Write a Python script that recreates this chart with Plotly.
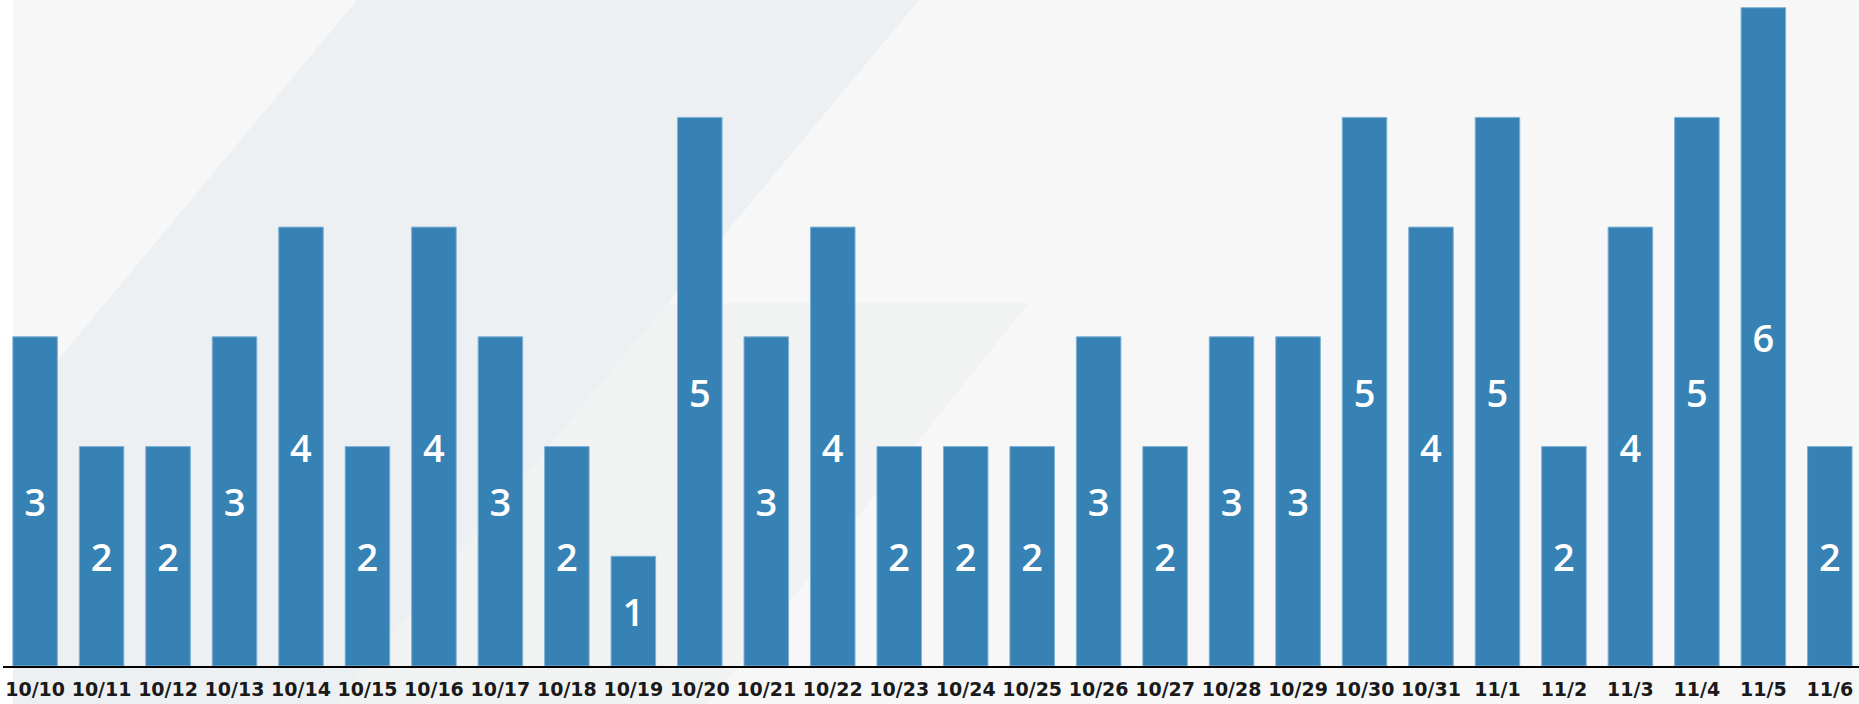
"""每日数量柱状图"""
from __future__ import annotations

import plotly.graph_objects as go

WIDTH, HEIGHT = 1859, 704
MARGIN_L, MARGIN_B = 3, 38

dates = [
    "10/10", "10/11", "10/12", "10/13", "10/14", "10/15", "10/16", "10/17",
    "10/18", "10/19", "10/20", "10/21", "10/22", "10/23", "10/24", "10/25",
    "10/26", "10/27", "10/28", "10/29", "10/30", "10/31", "11/1", "11/2",
    "11/3", "11/4", "11/5", "11/6",
]
counts = [3, 2, 2, 3, 4, 2, 4, 3, 2, 1, 5, 3, 4, 2, 2, 2, 3, 2, 3, 3, 5, 4, 5, 2, 4, 5, 6, 2]

BAR_COLOR = "#3782b5"
BG_COLOR = "#f7f7f7"


def _px(x: float, y: float) -> tuple[float, float]:
    """像素坐标 -> paper 坐标"""
    plot_w = WIDTH - MARGIN_L
    plot_h = HEIGHT - MARGIN_B
    return (x - MARGIN_L) / plot_w, (plot_h - y) / plot_h


def _poly(points: list[tuple[float, float]]) -> str:
    pts = [_px(x, y) for x, y in points]
    return "M " + " L ".join(f"{a:.5f},{b:.5f}" for a, b in pts) + " Z"


def _background_shapes() -> list[dict]:
    base = dict(type="path", xref="paper", yref="paper", layer="below", line=dict(width=0))
    return [
        {**base, "path": _poly([(13, 0), (WIDTH, 0), (WIDTH, HEIGHT), (13, HEIGHT)]), "fillcolor": BG_COLOR},
        {**base, "path": _poly([(654, 303), (1029, 303), (708, HEIGHT), (333, HEIGHT)]), "fillcolor": "#f0f3f2"},
        {**base, "path": _poly([(357, 0), (919, 0), (335, HEIGHT), (13, HEIGHT), (13, 414)]), "fillcolor": "#edf0f3"},
    ]


fig = go.Figure()
fig.add_trace(
    go.Bar(
        x=dates,
        y=counts,
        text=[str(v) for v in counts],
        textposition="inside",
        insidetextanchor="middle",
        textangle=0,
        constraintext="none",
        textfont=dict(family="Open Sans", size=38, color="white", weight=600),
        marker=dict(color=BAR_COLOR, line=dict(color="#7fb1d6", width=1)),
        hoverinfo="skip",
    )
)

fig.update_layout(
    width=WIDTH,
    height=HEIGHT,
    margin=dict(l=MARGIN_L, r=0, t=0, b=MARGIN_B),
    paper_bgcolor="white",
    plot_bgcolor="rgba(0,0,0,0)",
    bargap=0.33,
    showlegend=False,
    shapes=_background_shapes(),
    xaxis=dict(
        type="category",
        range=[-0.483, 27.439],
        showline=True,
        linecolor="black",
        linewidth=2,
        showgrid=False,
        ticks="",
        ticklabelstandoff=5,
        tickfont=dict(family="DejaVu Sans", size=19, color="#1a1a1a", weight="bold"),
        fixedrange=True,
    ),
    yaxis=dict(
        range=[0, 6.07],
        visible=False,
        showgrid=False,
        fixedrange=True,
    ),
)

fig.write_html(
    "out.html",
    config={"displayModeBar": False},
    post_script="document.body.style.margin='0';document.body.style.overflow='hidden';",
)
